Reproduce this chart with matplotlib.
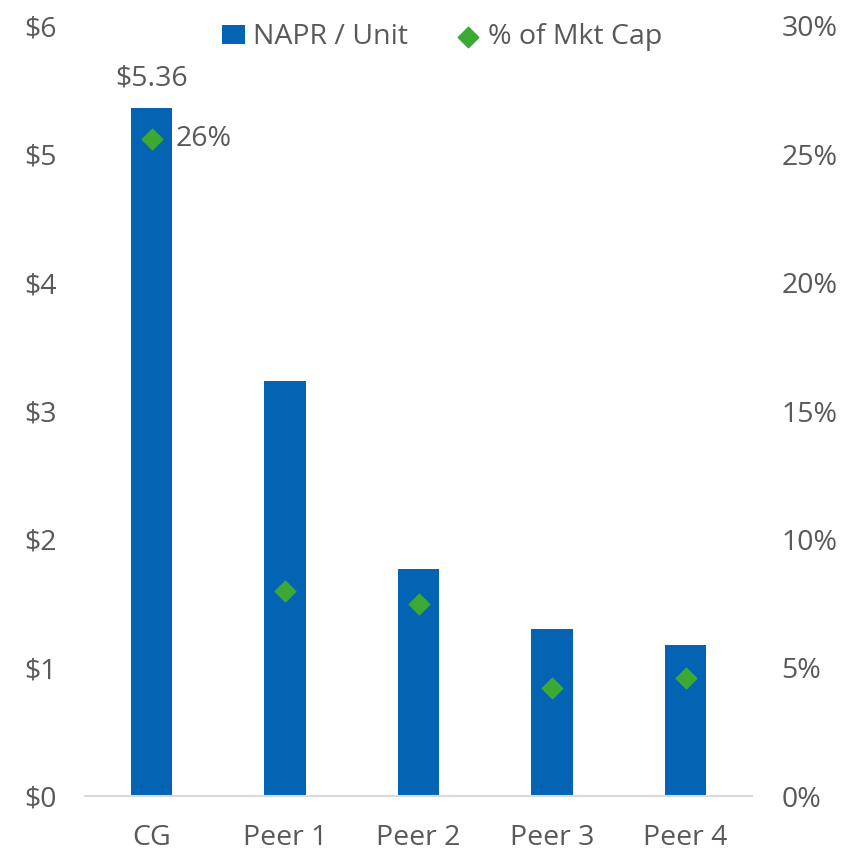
import matplotlib
matplotlib.use("Agg")
import matplotlib.pyplot as plt
from matplotlib.ticker import FuncFormatter

# chart data
categories = ["CG", "Peer 1", "Peer 2", "Peer 3", "Peer 4"]
napr_per_unit = [5.36, 3.23, 1.77, 1.30, 1.18]
pct_mkt_cap = [25.6, 8.0, 7.5, 4.2, 4.6]
left_ticks = [0, 1, 2, 3, 4, 5, 6]
right_ticks = [0, 5, 10, 15, 20, 25, 30]

plt.rcParams['font.family'] = ['Open Sans', 'DejaVu Sans']
grey = "#595959"
blue = "#0563B4"
green = "#3AAA35"
fs = 20.5


def main():
    fig = plt.figure(figsize=(8.5, 8.52), dpi=100)
    ax = fig.add_axes([0.1, 0.0657, 0.785, 0.9038])
    ax2 = ax.twinx()

    x = list(range(len(categories)))
    bars = ax.bar(x, napr_per_unit, width=0.31, color=blue, label="NAPR / Unit", zorder=2)
    pts = ax2.scatter(x, pct_mkt_cap, marker="D", s=110, color=green,
                      label="% of Mkt Cap", zorder=3)

    # axis limits and ticks
    ax.set_xlim(-0.5, len(categories) - 0.5)
    ax.set_ylim(0, 6)
    ax2.set_ylim(0, 30)
    ax.set_yticks(left_ticks)
    ax2.set_yticks(right_ticks)
    ax.yaxis.set_major_formatter(FuncFormatter(lambda v, p: "$%d" % v))
    ax2.yaxis.set_major_formatter(FuncFormatter(lambda v, p: "%d%%" % v))
    ax.set_xticks(x)
    ax.set_xticklabels(categories)

    # only the bottom axis line, light grey
    for a in (ax, ax2):
        for spine in ["top", "right", "left", "bottom"]:
            a.spines[spine].set_visible(False)
        a.tick_params(length=0, labelsize=fs, labelcolor=grey)
    ax.spines["bottom"].set_visible(True)
    ax.spines["bottom"].set_color("#D9D9D9")
    ax.spines["bottom"].set_linewidth(1.5)
    ax.tick_params(axis="x", pad=20)
    ax.tick_params(axis="y", pad=20)
    ax2.tick_params(axis="y", pad=21)

    # data labels for CG
    ax.annotate("$%.2f" % napr_per_unit[0], (x[0], napr_per_unit[0]),
                xytext=(0, 11), textcoords="offset points",
                ha="center", va="bottom", fontsize=fs, color=grey)
    ax2.annotate("%d%%" % round(pct_mkt_cap[0]), (x[0], pct_mkt_cap[0]),
                 xytext=(17, 0), textcoords="offset points",
                 ha="left", va="center", fontsize=fs, color=grey)

    fig.legend(handles=[bars, pts], loc="center", bbox_to_anchor=(0.52, 0.956),
               ncol=2, frameon=False, fontsize=fs, labelcolor=grey,
               handlelength=0.8, handletextpad=0.3, columnspacing=1.7,
               markerscale=1.0)

    fig.savefig("out.png", dpi=100)


if __name__ == "__main__":
    main()
